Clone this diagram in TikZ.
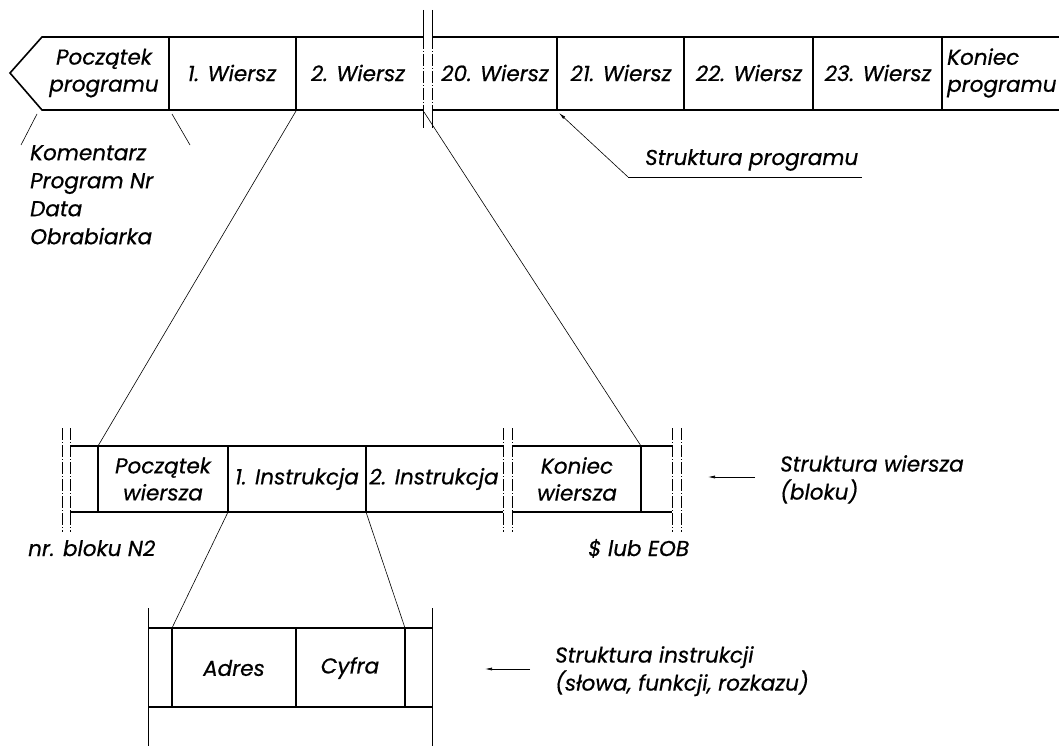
\documentclass[tikz,border=0pt]{standalone}
\usepackage{fontspec}
\setmainfont{Poppins}[FakeBold=0.6]
\usetikzlibrary{arrows.meta}
\begin{document}
\begin{tikzpicture}[x=1pt,y=-1pt,
  bar/.style={line width=1.6pt},
  sep/.style={line width=1.4pt},
  thin/.style={line width=0.6pt},
  brk/.style={line width=0.6pt, dash pattern=on 12pt off 2pt on 1pt off 2pt},
  lbl/.style={font=\fontsize{21.5}{28}\selectfont\itshape, inner sep=0pt, align=left},
  cell/.style={lbl, align=center, font=\fontsize{21.5}{27}\selectfont\itshape},
  ptr/.style={thin, -{Latex[length=7pt,width=3pt]}}]
\useasboundingbox (0,0) rectangle (1059,746);

% ---------- program structure (top bar) ----------
\draw[bar] (423,37) -- (42,37) -- (10,73) -- (42,110) -- (423,110);
\draw[bar] (432,37) -- (1059,37);
\draw[bar] (432,110) -- (1059,110);
\foreach \x in {169,296,557,684,813,942} \draw[sep] (\x,37) -- (\x,110);
% break marks
\foreach \x in {423,432} {
  \draw[thin] (\x,10) -- (\x,37);
  \draw[brk] (\x,37) -- (\x,110);
  \draw[thin] (\x,110) -- (\x,128);
}
\node[cell] (pp) at (104,73) {Początek\\programu};
\node[cell] (w1) at (232,73) {1. Wiersz};
\node[cell] (w2) at (358,73) {2. Wiersz};
\node[cell] (w20) at (495,73) {20. Wiersz};
\node[cell] (w21) at (621,73) {21. Wiersz};
\node[cell] (w22) at (749,73) {22. Wiersz};
\node[cell] (w23) at (878,73) {23. Wiersz};
\node[cell, align=left, anchor=west] (kp) at (947,73) {Koniec\\programu};

\coordinate (ppL) at (37,114);
\coordinate (ppR) at (172,114);
\coordinate (w2L) at (296,111);
\coordinate (w20L) at (424,112);
\coordinate (w21L) at (559,113);

% comment lines of the program start
\node[lbl, anchor=north west] (kom) at (30,145) {Komentarz\\Program Nr\\Data\\Obrabiarka};
\coordinate (komL) at (21,145);
\coordinate (komR) at (190,145);
\draw[thin] (ppL) -- (komL);
\draw[thin] (ppR) -- (komR);

% pointer "Struktura programu"
\coordinate (spK) at (628,177);
\coordinate (spE) at (862,177);
\draw[ptr] (spK) -- (w21L);
\draw[thin] (spK) -- (spE);
\node[lbl, anchor=base west] (sp) at (645,165) {Struktura programu};

% ---------- block structure (middle bar) ----------
\draw[bar] (70,446) -- (503,446);
\draw[bar] (512,446) -- (672,446);
\draw[bar] (70,512) -- (503,512);
\draw[bar] (512,512) -- (672,512);
\foreach \x in {98,228,366,641} \draw[sep] (\x,446) -- (\x,512);
\foreach \x in {62,70,503,512,672,681} \draw[brk] (\x,428) -- (\x,532);
\node[cell] (pw) at (163,479) {Początek\\wiersza};
\node[cell] (i1) at (297,479) {1. Instrukcja};
\node[cell] (i2) at (434,479) {2. Instrukcja};
\node[cell] (kw) at (577,479) {Koniec\\wiersza};

\coordinate (pwL) at (98,446);
\coordinate (kwR) at (641,446);
\coordinate (i1L) at (228,512);
\coordinate (i1R) at (366,512);
\draw[thin] (w2L) -- (pwL);
\draw[thin] (w20L) -- (kwR);

\node[lbl, anchor=base west] (nr) at (28,556) {nr. bloku N2};
\node[lbl, anchor=base west] (eob) at (588,556) {\$ lub EOB};

\coordinate (swA) at (755,477);
\coordinate (swB) at (708,477);
\draw[ptr] (swA) -- (swB);
\node[lbl, anchor=north west] (sw) at (780,455) {Struktura wiersza\\(bloku)};

% ---------- instruction structure (bottom bar) ----------
\draw[bar] (148,628) -- (432,628);
\draw[bar] (148,707) -- (432,707);
\foreach \x in {148,432} \draw[thin] (\x,608) -- (\x,746);
\foreach \x in {172,296,405} \draw[sep] (\x,628) -- (\x,707);
\node[cell] (ad) at (234,668) {Adres};
\node[cell] (cy) at (350,668) {Cyfra};

\coordinate (adL) at (172,628);
\coordinate (cyR) at (405,628);
\draw[thin] (i1L) -- (adL);
\draw[thin] (i1R) -- (cyR);

\coordinate (siA) at (530,669);
\coordinate (siB) at (485,669);
\draw[ptr] (siA) -- (siB);
\node[lbl, anchor=north west] (si) at (555,646) {Struktura instrukcji\\(słowa, funkcji, rozkazu)};
\end{tikzpicture}
\end{document}
